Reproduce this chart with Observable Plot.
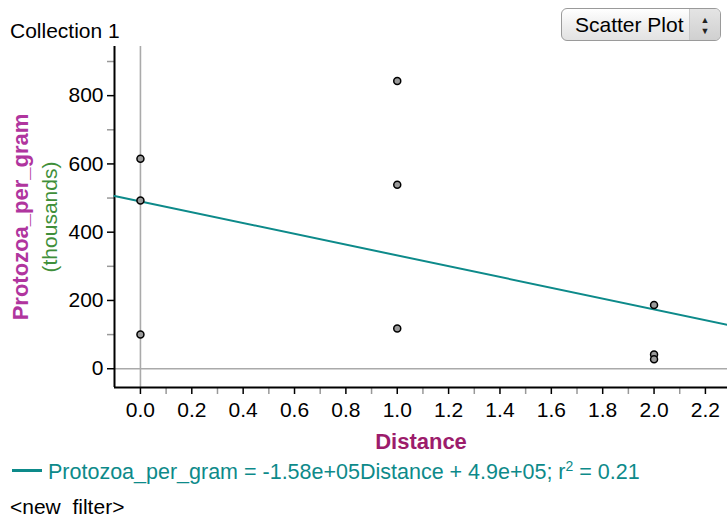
<!DOCTYPE html>
<html><head><meta charset="utf-8">
<script src="https://cdn.jsdelivr.net/npm/d3@7"></script>
<script src="https://cdn.jsdelivr.net/npm/@observablehq/plot@0.6"></script>
<style>
body{margin:0;background:#fff;font-family:"Liberation Sans",Arial,sans-serif;}
#wrap{position:relative;width:727px;height:522px;overflow:hidden;background:#fff;}
#chart{position:absolute;left:0;top:0;}
.title{position:absolute;left:10px;top:21px;font-size:21px;line-height:20px;color:#000;white-space:nowrap;}
.btn{position:absolute;left:561px;top:8px;width:160px;height:33px;border:1px solid #9a9a9a;border-radius:6px;
 background:linear-gradient(#ffffff,#ececec 60%,#e2e2e2);box-sizing:border-box;overflow:hidden;}
.btxt{position:absolute;left:13px;top:6px;font-size:21px;line-height:20px;color:#000;white-space:nowrap;}
.arr{position:absolute;right:0;top:0;width:30px;height:100%;background:linear-gradient(#e4e4e4,#d0d0d0);border-left:1px solid #c8c8c8;}
.arr span{position:absolute;left:0;width:100%;text-align:center;font-size:9px;line-height:9px;color:#222;}
.legend{position:absolute;left:12px;top:460px;height:24px;white-space:nowrap;}
.swatch{position:absolute;left:0;top:9px;width:30px;height:3px;background:#0d8a8a;}
.eq{position:absolute;left:36px;top:0;font-size:21.5px;line-height:24px;color:#0d8a8a;}
.eq sup{font-size:14px;line-height:0;vertical-align:8px;}
.filter{position:absolute;left:10px;top:496px;font-size:21px;line-height:22px;color:#000;white-space:pre;}
</style></head><body>
<div id="wrap">
 <div id="chart"></div>
 <div class="title">Collection 1</div>
 <div class="btn"><span class="btxt">Scatter Plot</span><span class="arr"><span style="top:7px">▲</span><span style="top:18px">▼</span></span></div>
 <div class="legend"><span class="swatch"></span><span class="eq">Protozoa_per_gram = -1.58e+05Distance + 4.9e+05; r<sup>2</sup> = 0.21</span></div>
 <div class="filter">&lt;new  filter&gt;</div>
</div>
<script>
// Data (Protozoa_per_gram in thousands)
const distance = [0, 0, 0, 1, 1, 1, 2, 2, 2];
const protozoa = [615, 493, 100, 843, 539, 118, 187, 42, 28];

// Regression shown in the legend (thousands)
const slope = -158;
const intercept = 490;

// Tick values
const yMajorTicks = [0, 200, 400, 600, 800];
const yMinorTicks = [100, 300, 500, 700, 900];
const xMajorTicks = [0.0, 0.2, 0.4, 0.6, 0.8, 1.0, 1.2, 1.4, 1.6, 1.8, 2.0, 2.2];
const xMinorTicks = [0.1, 0.3, 0.5, 0.7, 0.9, 1.1, 1.3, 1.5, 1.7, 1.9, 2.1];

const xDomain = [-0.101, 2.286];
const yDomain = [-55, 944];

const points = distance.map((d, i) => ({Distance: d, Protozoa: protozoa[i]}));
const fitLine = xDomain.map(x => ({x, y: intercept + slope * x}));

const font = '"Liberation Sans", Arial, sans-serif';

const chart = Plot.plot({
  width: 727,
  height: 460,
  marginTop: 46,
  marginLeft: 114,
  marginRight: 0,
  marginBottom: 73,
  style: {fontFamily: font, fontSize: "21px", background: "transparent", color: "#000", overflow: "visible"},
  x: {domain: xDomain, axis: null},
  y: {domain: yDomain, axis: null},
  marks: [
    Plot.ruleX([0], {stroke: "#aaaaaa", strokeWidth: 1.6, y1: yDomain[0], y2: yDomain[1]}),
    Plot.ruleY([0], {stroke: "#aaaaaa", strokeWidth: 1.6}),
    Plot.axisY(yMinorTicks, {tickSize: 7, stroke: "#999", strokeWidth: 1.5, tickFormat: () => "", label: null}),
    Plot.axisY(yMajorTicks, {tickSize: 7, tickPadding: 4, strokeWidth: 1.5, label: null, fontSize: 21}),
    Plot.axisX(xMinorTicks, {tickSize: 7, stroke: "#999", strokeWidth: 1.5, tickFormat: () => "", label: null}),
    Plot.axisX(xMajorTicks, {tickSize: 7, tickPadding: 8, strokeWidth: 1.5, tickFormat: d => d.toFixed(1), label: null, fontSize: 21}),
    Plot.ruleX([xDomain[0]], {stroke: "#000", strokeWidth: 2}),
    Plot.ruleY([yDomain[0]], {stroke: "#000", strokeWidth: 2}),
    Plot.line(fitLine, {x: "x", y: "y", stroke: "#0d8a8a", strokeWidth: 2}),
    Plot.dot(points, {x: "Distance", y: "Protozoa", r: 3.5, fill: "#9a9a9a", stroke: "#000", strokeWidth: 1.5}),
    Plot.text(["Distance"], {frameAnchor: "bottom", dy: 54, lineAnchor: "middle", fontSize: 22, fontWeight: "bold", fill: "#9c1c6c"}),
    Plot.text(["Protozoa_per_gram"], {frameAnchor: "left", dx: -94, rotate: -90, textAnchor: "middle", lineAnchor: "middle", fontSize: 22, fontWeight: "bold", fill: "#b0359e"}),
    Plot.text(["(thousands)"], {frameAnchor: "left", dx: -64, rotate: -90, textAnchor: "middle", lineAnchor: "middle", fontSize: 21, fill: "#3f8f3a"})
  ]
});
document.getElementById("chart").appendChild(chart);
</script>
</body></html>
